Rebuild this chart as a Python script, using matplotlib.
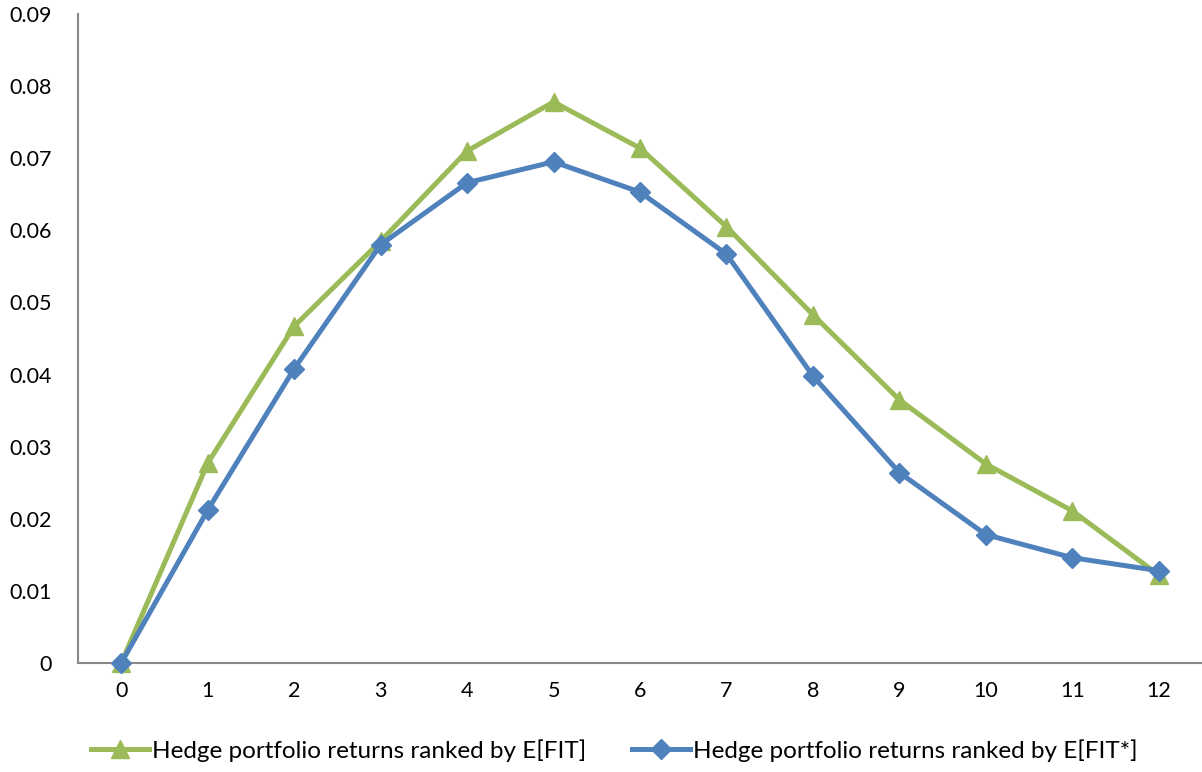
import matplotlib
matplotlib.use("Agg")
import matplotlib.pyplot as plt

plt.rcParams['font.family'] = ['Lato', 'DejaVu Sans']

categories = list(range(13))
fit = [0.0, 0.0277, 0.0467, 0.0585, 0.0710, 0.0778, 0.0714, 0.0605, 0.0483, 0.0365, 0.0276, 0.0211, 0.0122]
fit_star = [0.0, 0.0212, 0.0408, 0.0580, 0.0666, 0.0695, 0.0653, 0.0567, 0.0398, 0.0264, 0.0178, 0.0146, 0.0128]
labels = ["Hedge portfolio returns ranked by E[FIT]", "Hedge portfolio returns ranked by E[FIT*]"]
yticks = [0, 0.01, 0.02, 0.03, 0.04, 0.05, 0.06, 0.07, 0.08, 0.09]
ytick_labels = ["0", "0.01", "0.02", "0.03", "0.04", "0.05", "0.06", "0.07", "0.08", "0.09"]

green = "#9BBB59"
blue = "#4F81BD"

fig = plt.figure(figsize=(12.02, 7.72), dpi=100)
ax = fig.add_axes([0.0649, 0.1412, 0.9351, 0.8407])

ax.plot(categories, fit, color=green, lw=3.6, marker='^', markersize=13, label=labels[0], zorder=3)
ax.plot(categories, fit_star, color=blue, lw=3.6, marker='D', markersize=10, label=labels[1], zorder=4)

ax.set_xlim(-0.5, 12.5)
ax.set_ylim(0, 0.09)
ax.set_yticks(yticks)
ax.set_yticklabels(ytick_labels)
ax.set_xticks(categories)
ax.set_xticklabels([str(c) for c in categories])
ax.tick_params(axis='both', length=0, labelsize=15.5, colors='black')
ax.tick_params(axis='y', pad=19)
ax.tick_params(axis='x', pad=13)

for s in ['top', 'right']:
    ax.spines[s].set_visible(False)
for s in ['left', 'bottom']:
    ax.spines[s].set_color('#888888')
    ax.spines[s].set_linewidth(1.5)
for ln in ax.lines:
    ln.set_clip_on(False)

fig.legend(loc='center', bbox_to_anchor=(0.511, 0.028), ncol=2, frameon=False,
           fontsize=17.5, handlelength=2.4, handletextpad=0.1, columnspacing=1.9)

fig.savefig("out.png", dpi=100)
